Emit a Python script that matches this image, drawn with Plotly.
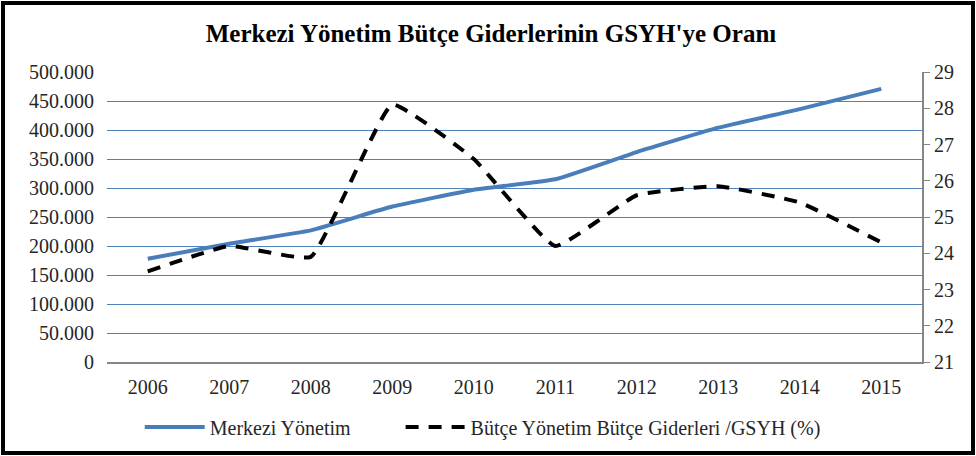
import plotly.graph_objects as go

# Data
years = ['2006', '2007', '2008', '2009', '2010', '2011', '2012', '2013', '2014', '2015']
merkezi_yonetim = [178000, 204000, 227000, 268000, 297000, 315000, 362000, 404000, 436000, 471000]
gider_gsyh = [23.5, 24.2, 23.9, 28.1, 26.6, 24.2, 25.6, 25.85, 25.4, 24.3]

left_ticks = [0, 50000, 100000, 150000, 200000, 250000, 300000, 350000, 400000, 450000, 500000]
left_ticktext = ['0', '50.000', '100.000', '150.000', '200.000', '250.000',
                 '300.000', '350.000', '400.000', '450.000', '500.000']

serif = 'Liberation Serif'
txt = dict(family=serif, size=20, color='#262626')

fig = go.Figure()
# trailing non-breaking spaces widen the gap between the two legend items
fig.add_trace(go.Scatter(x=years, y=merkezi_yonetim, mode='lines',
                         name='Merkezi Yönetim' + '\u00a0' * 9,
                         line=dict(color='#4a7ebb', width=4, shape='spline', smoothing=0.35)))
fig.add_trace(go.Scatter(x=years, y=gider_gsyh, mode='lines', yaxis='y2',
                         name='Bütçe Yönetim Bütçe Giderleri /GSYH (%)',
                         line=dict(color='black', width=4, dash='13px,10px',
                                   shape='spline', smoothing=0.35)))

fig.update_layout(
    width=976, height=456,
    margin=dict(l=107, r=54, t=72, b=94, autoexpand=False),
    paper_bgcolor='white', plot_bgcolor='white',
    font=txt,
    title=dict(text="<b>Merkezi Yönetim Bütçe Giderlerinin GSYH'ye Oranı</b>",
               x=491 / 976, xanchor='center', xref='container',
               y=1 - 33 / 456, yanchor='middle', yref='container',
               font=dict(family=serif, size=25, color='black')),
    xaxis=dict(type='category', range=[-0.5, 9.5], showgrid=False,
               showline=True, linecolor='#868686', linewidth=2,
               ticks='', tickfont=txt, ticklabelstandoff=6),
    yaxis=dict(range=[0, 500000], tickvals=left_ticks, ticktext=left_ticktext,
               showgrid=True, gridcolor='#4f81bd', gridwidth=1,
               showline=False, zeroline=False, ticks='', tickfont=txt,
               ticklabelstandoff=12),
    yaxis2=dict(range=[21, 29], dtick=1, overlaying='y', side='right',
                showgrid=False, zeroline=False, showline=True,
                linecolor='#868686', linewidth=2, ticks='outside',
                ticklen=6, tickcolor='#868686', tickfont=txt),
    legend=dict(orientation='h', x=0.461, xanchor='center', xref='paper',
                y=1 - 427 / 456, yanchor='middle', yref='container',
                bgcolor='rgba(0,0,0,0)', font=txt, itemwidth=60),
    showlegend=True,
)

# outer frame
fig.add_shape(type='rect', xref='paper', yref='paper',
              x0=(3 - 107) / 815, x1=(973 - 107) / 815,
              y0=(362 - 453) / 290, y1=(362 - 3) / 290,
              line=dict(color='black', width=4))

# drop the default page margin so the figure sits at the window's corner
fig.write_html('out.html', config={'displayModeBar': False},
               post_script="document.body.style.margin='0';")
